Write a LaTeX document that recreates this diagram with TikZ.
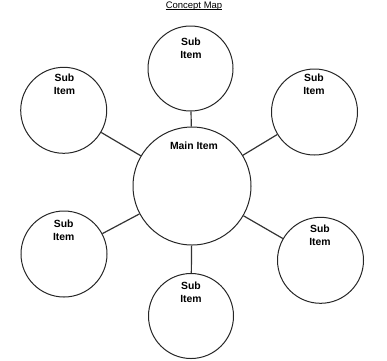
\documentclass[tikz,border=0pt]{standalone}
\usepackage{fontspec}
\setmainfont{Liberation Sans}
\begin{document}
\begin{tikzpicture}[x=1pt,y=-1pt,
  bubble/.style={circle,draw=black!85,line width=1pt,inner sep=0pt},
  link/.style={draw=black!80,line width=1.2pt},
  lbl/.style={inner sep=0pt,align=center,font=\fontsize{10.4}{13}\selectfont\bfseries},
  ttl/.style={inner sep=0pt,font=\fontsize{9.5}{11}\selectfont}]
\useasboundingbox (0,0) rectangle (387,360);
\node[bubble,minimum size=118pt] (main) at (192,186) {};
\node[bubble,minimum size=85pt] (top) at (190.5,68.5) {};
\node[bubble,minimum size=86pt] (tl) at (63.7,110.3) {};
\node[bubble,minimum size=86pt] (tr) at (314.5,112) {};
\node[bubble,minimum size=86pt] (bl) at (64,254) {};
\node[bubble,minimum size=85pt] (bm) at (191,316) {};
\node[bubble,minimum size=86pt] (br) at (320.5,260.3) {};
\draw[link] (main) -- (top);
\draw[link] (main) -- (tl);
\draw[link] (main) -- (tr);
\draw[link] (main) -- (bl);
\draw[link] (main) -- (bm);
\draw[link] (main) -- (br);
\node[lbl] (tmain) at (194,145.7) {Main Item};
\node[lbl] (ttop) at (191,48) {Sub\\Item};
\node[lbl] (ttl) at (64.5,84) {Sub\\Item};
\node[lbl] (ttr) at (314,84) {Sub\\Item};
\node[lbl] (tbl) at (63.7,230) {Sub\\Item};
\node[lbl] (tbm) at (191,292.7) {Sub\\Item};
\node[lbl] (tbr) at (320,235.7) {Sub\\Item};
\node[ttl,anchor=base] (title) at (194,8.3) {Concept Map};
\draw[line width=0.6pt] ([yshift=-1.3pt]title.base west) -- ([yshift=-1.3pt]title.base east);
\end{tikzpicture}
\end{document}
